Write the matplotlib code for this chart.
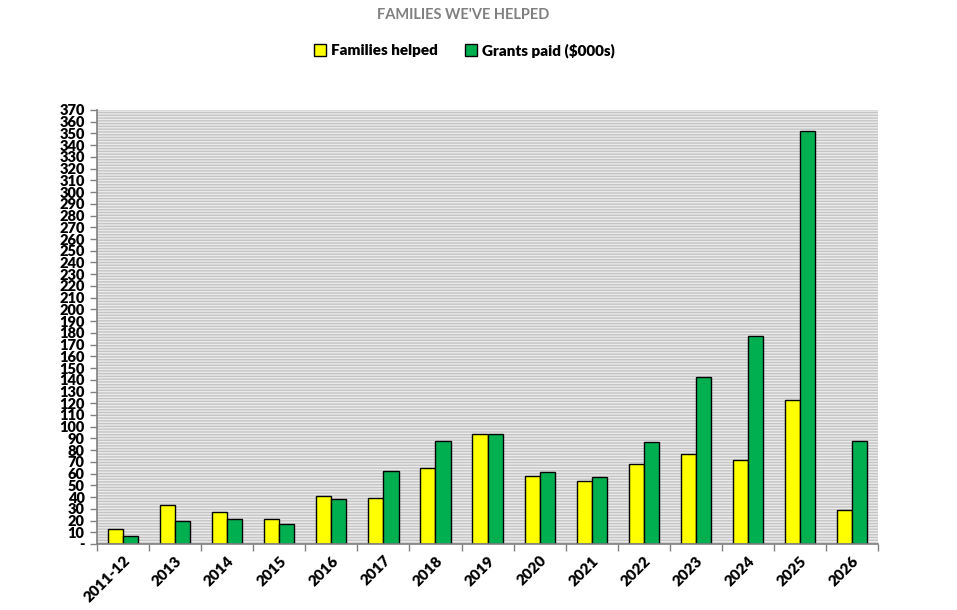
import numpy as np
import matplotlib.pyplot as plt
from matplotlib.patches import Rectangle
from matplotlib.ticker import FixedLocator

# DATA
years = ['2011-12', '2013', '2014', '2015', '2016', '2017', '2018', '2019',
         '2020', '2021', '2022', '2023', '2024', '2025', '2026']
families = [13, 33, 27, 21, 41, 39, 65, 94, 58, 54, 68, 77, 72, 123, 29]
grants = [7, 20, 21, 17, 38, 62, 88, 94, 61, 57, 87, 142, 177, 352, 88]
y_ticks = list(range(0, 371, 10))
y_labels = ['-'] + [str(v) for v in y_ticks[1:]]

plt.rcParams['font.family'] = ['Lato', 'DejaVu Sans']
plt.rcParams['hatch.color'] = '#c4c4c4'
plt.rcParams['hatch.linewidth'] = 1.0

fig = plt.figure(figsize=(9.57, 6.1), dpi=100)
ax = fig.add_axes([0.1014, 0.1082, 0.8161, 0.7115])

# STRIPED BACKGROUND
ax.set_facecolor('#ebebeb')
ax.add_patch(Rectangle((0, 0), 1, 1, transform=ax.transAxes, facecolor='#ebebeb',
                       edgecolor='#c4c4c4', hatch='------', linewidth=0, zorder=0))

x = np.arange(len(years))
w = 0.29
ax.bar(x - w / 2, families, w, color='#ffff00', edgecolor='black', linewidth=1,
       label='Families helped', zorder=2)
ax.bar(x + w / 2, grants, w, color='#00b050', edgecolor='black', linewidth=1,
       label='Grants paid ($000s)', zorder=2)

ax.set_xlim(-0.5, len(years) - 0.5)
ax.set_ylim(0, 370)
ax.set_yticks(y_ticks)
ax.set_yticklabels(y_labels, fontsize=10.5, fontweight='heavy')
ax.set_xticks(x)
ax.set_xticklabels(years, fontsize=11, fontweight='heavy', rotation=45,
                   ha='right', rotation_mode='anchor')
ax.xaxis.set_minor_locator(FixedLocator(np.arange(-0.5, len(years), 1)))
ax.tick_params(axis='x', which='major', length=0, pad=7)
ax.tick_params(axis='x', which='minor', length=5, color='#808080', width=1)
ax.tick_params(axis='y', length=5, color='#808080', width=1, pad=4)

for s in ['top', 'right']:
    ax.spines[s].set_visible(False)
for s in ['left', 'bottom']:
    ax.spines[s].set_color('#808080')
    ax.spines[s].set_linewidth(1.2)

fig.text(0.484, 0.975, "FAMILIES WE'VE HELPED", ha='center', va='center',
         fontsize=10.5, fontweight='bold', color='#808080')
fig.legend(loc='center', bbox_to_anchor=(0.485, 0.917), ncol=2, frameon=False,
           prop={'weight': 'heavy', 'size': 11}, handlelength=0.8, handleheight=0.8,
           handletextpad=0.3, columnspacing=1.8)

plt.savefig('out.png', dpi=100)
